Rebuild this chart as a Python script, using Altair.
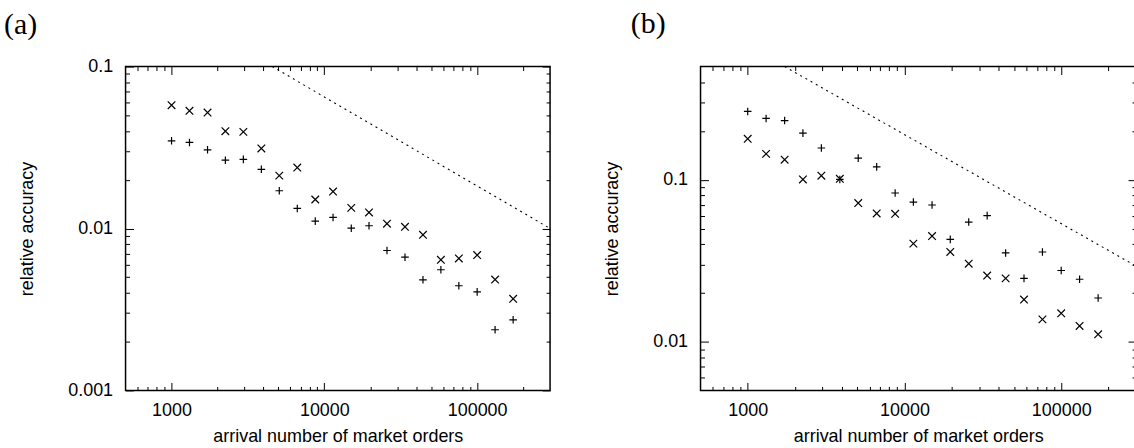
import altair as alt
import pandas as pd

# ---- data ----
x_vals = [1000, 1310, 1720, 2250, 2950, 3870, 5070, 6650, 8720, 11400,
          15000, 19600, 25700, 33700, 44200, 57900, 75900, 100000, 131000, 172000]

a_cross = [0.0577, 0.0533, 0.0520, 0.0399, 0.0395, 0.0312, 0.0212, 0.0238, 0.0151, 0.0169,
           0.0134, 0.01256, 0.0107, 0.01024, 0.00914, 0.00641, 0.00653, 0.00685, 0.00484, 0.00368]
a_plus = [0.0348, 0.0340, 0.0306, 0.0264, 0.0267, 0.0232, 0.0171, 0.0133, 0.0111, 0.0117,
          0.01004, 0.0104, 0.00731, 0.00665, 0.00482, 0.00556, 0.00443, 0.00406, 0.00237, 0.00273]

b_plus = [0.264, 0.239, 0.232, 0.194, 0.157, 0.1004, 0.136, 0.120, 0.0828, 0.0728,
          0.0698, 0.0428, 0.0548, 0.0600, 0.0353, 0.0246, 0.0358, 0.0275, 0.0243, 0.0186]
b_cross = [0.179, 0.1445, 0.133, 0.1004, 0.1059, 0.1014, 0.0718, 0.0619, 0.0616, 0.0403,
           0.0449, 0.0358, 0.0303, 0.0256, 0.0246, 0.0182, 0.01373, 0.01496, 0.0125, 0.0111]

a_line_x = [4560, 300000]
a_line_y = [0.1, 0.01]
b_line_x = [1720, 300000]
b_line_y = [0.5, 0.0293]

x_domain = [500, 300000]
a_y_domain = [0.001, 0.1]
b_y_domain = [0.005, 0.5]

x_major = [1000, 10000, 100000]
x_minor = [600, 700, 800, 900, 2000, 3000, 4000, 5000, 6000, 7000, 8000, 9000,
           20000, 30000, 40000, 50000, 60000, 70000, 80000, 90000, 200000]
a_y_major = [0.001, 0.01, 0.1]
a_y_minor = [0.002, 0.003, 0.004, 0.005, 0.006, 0.007, 0.008, 0.009,
             0.02, 0.03, 0.04, 0.05, 0.06, 0.07, 0.08, 0.09]
b_y_major = [0.01, 0.1]
b_y_minor = [0.006, 0.007, 0.008, 0.009, 0.02, 0.03, 0.04, 0.05, 0.06, 0.07, 0.08, 0.09,
             0.2, 0.3, 0.4]

PLUS = "M-1,0L1,0M0,-1L0,1"
CROSS = "M-1,-1L1,1M-1,1L1,-1"

MAJ = 8
MIN = 4
H = 325
FONT = "Liberation Sans"


def tick_axis(orient, values, size, offset):
    return alt.Axis(orient=orient, values=values, tickSize=size, offset=offset,
                    labels=False, domain=False, grid=False, title=None,
                    ticks=True, tickColor="black", tickWidth=1)


def panel(plus_vals, cross_vals, lx, ly, ydom, ymaj, ymin, W, label, dx, toff):
    pts = pd.DataFrame({"x": x_vals, "plus": plus_vals, "cross": cross_vals})
    line = pd.DataFrame({"x": lx, "y": ly})
    xs = alt.Scale(type="log", domain=x_domain, nice=False)
    ys = alt.Scale(type="log", domain=ydom, nice=False)

    common = dict(ticks=False, tickSize=0, domain=False, grid=False,
                  labelFont=FONT, labelFontSize=18, labelColor="black",
                  titleFont=FONT, titleFontSize=18, titleColor="black",
                  titleFontWeight="normal")
    lab_x = alt.Axis(orient="bottom", values=x_major, format="d", labelPadding=11,
                     title="arrival number of market orders", titlePadding=8, **common)
    lab_y = alt.Axis(orient="left", values=ymaj, format=".3~f", labelPadding=13,
                     title="relative accuracy", titlePadding=31, **common)

    cross = alt.Chart(pts).mark_point(shape=CROSS, filled=False, color="black",
                                      size=58, strokeWidth=1.2, opacity=1).encode(
        x=alt.X("x:Q", scale=xs, axis=lab_x),
        y=alt.Y("cross:Q", scale=ys, axis=lab_y),
    )
    plus = alt.Chart(pts).mark_point(shape=PLUS, filled=False, color="black",
                                     size=58, strokeWidth=1.2, opacity=1).encode(
        x=alt.X("x:Q", scale=xs, axis=tick_axis("top", x_major, MAJ, -H)),
        y=alt.Y("plus:Q", scale=ys, axis=tick_axis("right", ymaj, MAJ, -W)),
    )
    dotted = alt.Chart(line).mark_line(color="black", strokeWidth=1.1,
                                       strokeDash=[2, 4], clip=True).encode(
        x=alt.X("x:Q", scale=xs, axis=tick_axis("top", x_minor, MIN, -H)),
        y=alt.Y("y:Q", scale=ys, axis=tick_axis("right", ymin, MIN, -W)),
    )
    ghost1 = alt.Chart(pts).mark_point(opacity=0).encode(
        x=alt.X("x:Q", scale=xs, axis=tick_axis("bottom", x_major, MAJ, -H)),
        y=alt.Y("plus:Q", scale=ys, axis=tick_axis("left", ymaj, MAJ, -W)),
    )
    ghost2 = alt.Chart(pts).mark_point(opacity=0).encode(
        x=alt.X("x:Q", scale=xs, axis=tick_axis("bottom", x_minor, MIN, -H)),
        y=alt.Y("plus:Q", scale=ys, axis=tick_axis("left", ymin, MIN, -W)),
    )
    return alt.layer(cross, plus, dotted, ghost1, ghost2).resolve_axis(
        x="independent", y="independent"
    ).properties(
        width=W, height=H,
        title=alt.TitleParams(label, anchor="start", frame="group", dx=dx, offset=toff,
                              font="Liberation Serif", fontSize=30, fontWeight="normal",
                              color="black"),
    )


pa = panel(a_plus, a_cross, a_line_x, a_line_y, a_y_domain, a_y_major, a_y_minor, 426,
           "(a)", -122, 18)
pb = panel(b_plus, b_cross, b_line_x, b_line_y, b_y_domain, b_y_major, b_y_minor, 437,
           "(b)", -70, 27)

chart = alt.hconcat(pa, pb, spacing=51).properties(
    padding={"left": 3, "top": 7, "right": -4, "bottom": 0},
    background="white",
).configure_view(
    stroke="black", strokeWidth=1.5
).configure_axis(
    labelFont=FONT, labelFontSize=18, labelColor="black",
    titleFont=FONT, titleFontSize=18, titleColor="black",
    titleFontWeight="normal", grid=False
)

chart.save("out.html", embed_options={"renderer": "svg", "actions": False})
